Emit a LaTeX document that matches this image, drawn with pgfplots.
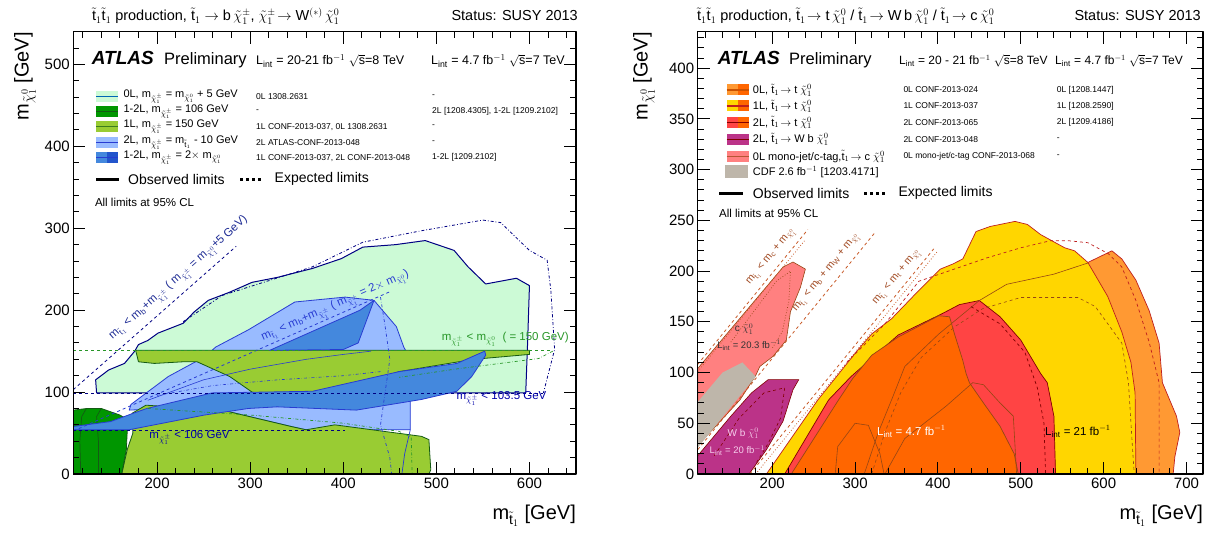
\documentclass[border=0pt]{standalone}
\usepackage{fontspec}
\setmainfont{Liberation Sans}
\usepackage{pgfplots}
\pgfplotsset{compat=1.18}

\definecolor{cLG}{RGB}{204,250,214}
\definecolor{cG}{RGB}{0,150,0}
\definecolor{cDG}{RGB}{20,90,20}
\definecolor{cYG}{RGB}{153,204,51}
\definecolor{cLB}{RGB}{153,187,255}
\definecolor{cMB}{RGB}{68,136,221}
\definecolor{cDB}{RGB}{34,85,204}
\definecolor{cNavy}{RGB}{0,0,130}
\definecolor{cBlue}{RGB}{40,60,210}
\definecolor{cGrn}{RGB}{40,150,40}
\definecolor{cLO}{RGB}{255,153,51}
\definecolor{cO}{RGB}{255,102,0}
\definecolor{cY}{RGB}{255,214,0}
\definecolor{cR}{RGB}{255,68,68}
\definecolor{cPu}{RGB}{187,51,136}
\definecolor{cP}{RGB}{255,128,128}
\definecolor{cGr}{RGB}{190,182,170}
\definecolor{cDR}{RGB}{190,30,30}
\definecolor{cDR2}{RGB}{130,0,0}
\definecolor{cBr}{RGB}{150,70,20}
\definecolor{cK}{RGB}{200,90,40}

\newcommand{\tI}{\tilde{\mathrm{t}}_{1}}
\newcommand{\cz}{\tilde{\chi}^{0}_{1}}
\newcommand{\cpm}{\tilde{\chi}^{\pm}_{1}}
\newcommand{\fsLeg}{\fontsize{11}{13}\selectfont}
\newcommand{\fsRef}{\fontsize{8.5}{10}\selectfont}
\newcommand{\fsObs}{\fontsize{14}{16}\selectfont}
\newcommand{\fsTit}{\fontsize{14.5}{16}\selectfont}
\newcommand{\fsLab}{\fontsize{20}{24}\selectfont}
\newcommand{\fsIn}{\fontsize{11.5}{13}\selectfont}

% legend swatch: x, y, left colour, right colour, line colour
\newcommand{\swatch}[5]{%
  \fill[#3] (#1,#2-5.5) rectangle ++(11,11);
  \fill[#4] (#1+11,#2-5.5) rectangle ++(11,11);
  \draw[#5, line width=1.2pt] (#1,#2) -- ++(22,0);}

\pgfplotsset{atlas/.style={scale only axis, anchor=south west,
    width=502.7pt, height=442.3pt,
    tick align=inside, major tick length=12pt, minor tick length=6pt,
    every tick/.append style={black, line width=1pt},
    axis line style={line width=1.3pt},
    ticklabel style={font=\fontsize{15}{18}\selectfont},
    /pgf/number format/assume math mode=true,
    axis on top, line join=round}}

\begin{document}
\begin{tikzpicture}[x=1pt,y=1pt]
\useasboundingbox (0,0) rectangle (1210,533);

%================ left panel =================
\begin{axis}[atlas, at={(73.3pt,59pt)},
    xmin=110, xmax=650, ymin=0, ymax=540,
    xtick={200,300,400,500,600}, ytick={0,100,200,300,400,500},
    minor xtick={120,140,...,640}, minor ytick={20,40,...,520}]

% 0L, m_chipm = m_chi0 + 5 GeV
\addplot[fill=cLG, draw=cNavy, line width=1pt] coordinates {
 (135,99) (134,115) (148,127) (165,135) (176,150) (180,158) (190,163)
 (201,172) (228,184) (240,198) (255,212) (278,222) (302,234) (329,240)
 (367,251) (398,263) (421,277) (456,280) (488,285) (519,273) (534,253)
 (553,232) (586,239) (600,230) (598,160) (596,99)} -- cycle;
\addplot[cNavy, line width=0.8pt, dash dot] coordinates {
 (228,186) (270,218) (367,253) (421,283) (484,297) (550,310) (569,307)
 (600,273) (619,261) (623,224) (627,152) (615,99)};

% 2L, m_chipm = m_t - 10 GeV
\addplot[fill=cLB, draw=cBlue, line width=0.8pt] coordinates {
 (170,78) (172,85) (212,119) (251,143) (263,155) (298,176) (348,210)
 (402,216) (433,212) (457,180) (465,155) (472,140) (472,54) (360,54)
 (344,58) (270,78) (212,83) (190,79)} -- cycle;

% 1L, m_chipm = 150 GeV
\addplot[fill=cYG, draw=cDG, line width=0.8pt] coordinates {
 (177,151) (600,151) (600,146) (540,140) (460,125) (420,110) (380,98)
 (344,90) (302,100) (278,119) (243,137) (228,137) (197,135) (180,137)} -- cycle;
\addplot[fill=cYG, draw=cDG, line width=0.8pt] coordinates {
 (162,0) (168,30) (174,50) (173,74) (188,84) (270,78) (344,58) (360,54)
 (391,60) (484,46) (492,42) (494,5) (492,0)} -- cycle;

% 1-2L, m_chipm = 106 GeV
\addplot[fill=cG, draw=cDG, line width=0.8pt] coordinates {
 (110,0) (110,78) (125,80) (140,80) (150,76) (160,72) (169,66) (168,54)
 (167,30) (162,0)} -- cycle;
\addplot[cDG, line width=0.7pt] coordinates {(118,0) (117,40) (119,70) (124,80)};
\addplot[cDG, line width=0.7pt] coordinates {(137,0) (137,40) (135,70) (140,80)};

% 1-2L, m_chipm = 2 x m_chi0
\addplot[fill=cMB, draw=cBlue, line width=0.8pt] coordinates {
 (110,54) (170,54) (251,72) (298,80) (329,82) (414,78) (484,91) (522,101)
 (538,119) (553,145) (552,150) (522,135) (460,125) (367,101) (259,99)
 (189,80) (174,74) (150,64) (110,58)} -- cycle;
\addplot[fill=cMB, draw=cBlue, line width=0.8pt] coordinates {
 (321,151) (418,200) (433,212) (416,160) (400,152)} -- cycle;

% inner contours
\addplot[cBlue, dash dot, line width=0.7pt] coordinates {
 (440,216) (445,180) (450,140) (445,100) (440,60) (450,20) (452,0)};
\addplot[cBlue, line width=0.7pt] coordinates {(472,54) (466,25) (463,0)};
\addplot[cGrn, dash dot, line width=0.7pt] coordinates {
 (190,80) (300,72) (400,62) (460,52) (473,45) (474,0)};
\addplot[cGrn, dash dot, line width=0.7pt] coordinates {
 (625,150) (610,141) (520,128) (460,118)};
\addplot[cBlue, line width=0.6pt] coordinates {
 (190,90) (250,115) (300,128) (360,140) (400,146) (430,150)};
\addplot[cBlue, dash dot, line width=0.6pt] coordinates {
 (200,96) (260,108) (330,115) (400,120) (440,125)};

% kinematic and LEP lines
\addplot[cNavy, dashed, line width=0.8pt] coordinates {(110,103) (285,278)};
\addplot[cBlue, dashed, line width=0.8pt] coordinates {(110,52.5) (450,222.5)};
\addplot[cGrn, dashed, line width=0.8pt] coordinates {(110,151) (625,151)};
\addplot[cNavy, dashed, line width=0.8pt] coordinates {(110,99) (615,99)};
\addplot[cNavy, dashed, line width=0.8pt] coordinates {(110,53) (402,53)};

\node[cBlue!70!black, font=\fsIn, rotate=41.5] at (axis cs:224,238)
  {m$_{\tI}$ < m$_{\mathrm{b}}$+m$_{\cpm}$ ( m$_{\cpm}$ = m$_{\cz}$+5 GeV)};
\node[cBlue, font=\fsIn, rotate=23.7] at (axis cs:392,204)
  {m$_{\tI}$ < m$_{\mathrm{b}}$+m$_{\cpm}$ ( m$_{\cpm}$ = 2$\times$ m$_{\cz}$)};
\node[cGrn, font=\fsIn] at (axis cs:574,164) {m$_{\cpm}$ < m$_{\cz}$ \ ( = 150 GeV)};
\node[cNavy!70!blue, font=\fsIn] at (axis cs:570,92) {m$_{\cpm}$ < 103.5 GeV};
\node[cNavy!70!blue, font=\fsIn, anchor=west] at (axis cs:188,44) {m$_{\cpm}$ < 106 GeV};
\end{axis}

%================ right panel =================
\begin{axis}[atlas, at={(697.7pt,59pt)}, width=505.3pt,
    xmin=110, xmax=720, ymin=0, ymax=436,
    xtick={200,300,400,500,600,700}, ytick={0,50,...,400},
    minor xtick={120,140,...,720}, minor ytick={10,20,...,430}]

% 0L t chi0
\addplot[fill=cLO, draw=cDR, line width=0.7pt] coordinates {
 (500,0) (500,180) (560,215) (581,208.5) (610,220) (622,212) (639,191)
 (655,161) (667,129) (671,90) (688,57) (692,41) (686,17) (684,0)} -- cycle;
% 1L t chi0
\addplot[fill=cY, draw=cDR, line width=0.7pt] coordinates {
 (193,0) (255,73) (303,122) (320,138) (344,153) (377,181) (403,202)
 (418,207) (430,212) (446,239) (463,244) (493,249) (508,246) (524,236)
 (553,223) (565,220) (581,208.5) (605,175) (622,140) (633,110) (638,80)
 (639,0)} -- cycle;
% 2L t chi0
\addplot[fill=cR, draw=cDR2, line width=0.7pt] coordinates {
 (215,0) (268,73) (295,96) (352,137) (405,158) (426,167) (450,171)
 (475,155) (500,132) (524,99) (532,90) (540,57) (542,0)} -- cycle;
% 7 TeV
\addplot[fill=cO, draw=cBr, line width=0.7pt] coordinates {
 (223,0) (280,73) (297,94) (320,117) (352,135) (401,156) (414,155)
 (420,138) (430,112) (434,99) (438,90) (455,70) (475,47) (492,20) (497,0)} -- cycle;

% inner contours
\addplot[cBr, line width=0.6pt] coordinates {
 (311,0) (328,41) (345,75) (360,106) (401,138) (450,171) (483,187)
 (540,197) (581,208)};
\addplot[cBr, dashed, line width=0.6pt] coordinates {
 (320,0) (336,41) (355,80) (380,115) (420,145) (454,163) (500,174)
 (569,174) (590,165) (622,129) (630,90) (635,24) (637,0)};
\addplot[cDR, dashed, line width=0.7pt] coordinates {
 (290,110) (336,148) (377,190) (459,213) (500,223) (536,230) (557,230)
 (581,228) (606,217) (622,204) (639,171) (655,130) (667,90) (667,24) (667,0)};
\addplot[cDR2, dashed, line width=0.7pt] coordinates {
 (440,165) (475,148) (505,120) (520,85) (528,50) (530,0)};
\addplot[cBr, line width=0.6pt] coordinates {
 (276,0) (279,27) (300,50) (316,48) (330,20) (335,0)};
\addplot[cBr, line width=0.6pt] coordinates {
 (336,0) (360,35) (410,67) (442,90) (455,88) (475,70) (491,57) (495,0)};

% mono-jet / c-tag
\addplot[fill=cP, draw=cBr, line width=0.6pt] coordinates {
 (110,104) (213,204) (225,209) (240,202) (234,184) (222,160) (217,132)
 (201,116) (185,106) (180,97) (161,73) (110,28)} -- cycle;
\addplot[cBr, dotted, line width=0.7pt] coordinates {
 (150,130) (205,190) (222,200) (220,170) (212,140) (200,124)};
% CDF
\addplot[fill=cGr, draw=none] coordinates {
 (110,26) (180,96) (164,110) (140,100) (110,71)} -- cycle;
% 2L W b chi0
\addplot[fill=cPu, draw=cDR2, line width=0.6pt] coordinates {
 (110,0) (110,18) (150,57) (175,80) (195,93) (232,93) (225,83) (213,52)
 (193,24) (172,0)} -- cycle;
\addplot[cDR2, dashed, line width=0.6pt] coordinates {
 (130,18) (160,55) (190,80) (215,85) (210,55) (195,30) (180,10)};

% kinematic limits
\addplot[cK, dashed, line width=0.8pt] coordinates {(110,108) (243,241)};
\addplot[cK, dashed, line width=0.8pt] coordinates {(110,24) (325,239)};
\addplot[cK, dashed, line width=0.8pt] coordinates {(173,0) (395,222)};
\addplot[cK, dotted, line width=0.8pt] coordinates {(110,101) (240,231)};
\addplot[cK, dotted, line width=0.8pt] coordinates {(180,0) (400,220)};

\node[cK!80!black, font=\fontsize{10.5}{12}\selectfont, rotate=50.7] at (axis cs:199,214)
  {m$_{\tI}$ < m$_{\mathrm{c}}$ + m$_{\cz}$};
\node[cK!80!black, font=\fontsize{10.5}{12}\selectfont, rotate=50.7] at (axis cs:266,198)
  {m$_{\tI}$ < m$_{\mathrm{b}}$ + m$_{\mathrm{W}}$ + m$_{\cz}$};
\node[cK!80!black, font=\fontsize{10.5}{12}\selectfont, rotate=50.7] at (axis cs:351,194)
  {m$_{\tI}$ < m$_{\mathrm{t}}$ + m$_{\cz}$};

\node[font=\fontsize{10}{12}\selectfont, text=black!80] at (axis cs:166,143) {c $\cz$};
\node[font=\fontsize{9.5}{12}\selectfont, text=black!80] at (axis cs:172,127) {L$_{\mathrm{int}}$ = 20.3 fb$^{-1}$};
\node[font=\fontsize{10}{12}\selectfont, text={rgb,255:red,245;green,205;blue,235}] at (axis cs:165,40) {W b $\cz$};
\node[font=\fontsize{9.5}{12}\selectfont, text={rgb,255:red,245;green,205;blue,235}] at (axis cs:158,23) {L$_{\mathrm{int}}$ = 20 fb$^{-1}$};
\node[font=\fontsize{11.5}{13}\selectfont, text=white] at (axis cs:368,42) {L$_{\mathrm{int}}$ = 4.7 fb$^{-1}$};
\node[font=\fontsize{11.5}{13}\selectfont] at (axis cs:569,42) {L$_{\mathrm{int}}$ = 21 fb$^{-1}$};
\end{axis}

%================ titles, labels =================
\node[anchor=base west, font=\fsTit, inner sep=0] at (92,512)
  {$\tI\tI$ production, $\tI\rightarrow \mathrm{b}\,\cpm$, $\cpm\!\rightarrow \mathrm{W}^{(*)}\,\cz$};
\node[anchor=base east, font=\fsTit, inner sep=0] at (578,512) {Status: SUSY 2013};
\node[anchor=base west, font=\fsTit, inner sep=0] at (697,512)
  {$\tI\tI$ production, $\tI\!\rightarrow \mathrm{t}\,\cz$ / $\tI\!\rightarrow \mathrm{W\,b}\,\cz$ / $\tI\!\rightarrow \mathrm{c}\,\cz$};
\node[anchor=base east, font=\fsTit, inner sep=0] at (1201,512) {Status: SUSY 2013};

\node[rotate=90, anchor=east, font=\fsLab, inner sep=0] at (25,501) {m$_{\cz}$ [GeV]};
\node[rotate=90, anchor=east, font=\fsLab, inner sep=0] at (644,501) {m$_{\cz}$ [GeV]};
\node[anchor=base east, font=\fsLab, inner sep=0] at (576,14) {m$_{\tI}$ [GeV]};
\node[anchor=base east, font=\fsLab, inner sep=0] at (1203,14) {m$_{\tI}$ [GeV]};

%================ left legend =================
\node[anchor=base west, inner sep=0, font=\fontsize{19}{20}\selectfont\bfseries\itshape] at (91.7,468) {ATLAS};
\node[anchor=base west, inner sep=0, font=\fontsize{16.5}{18}\selectfont] at (164,468) {Preliminary};
\node[anchor=base west, inner sep=0, font=\fontsize{12.5}{14}\selectfont] at (256,468)
  {L$_{\mathrm{int}}$ = 20-21 fb$^{-1}$ $\sqrt{\mathrm{s}}$=8 TeV};
\node[anchor=base west, inner sep=0, font=\fontsize{12.5}{14}\selectfont] at (431,468)
  {L$_{\mathrm{int}}$ = 4.7 fb$^{-1}$ $\sqrt{\mathrm{s}}$=7 TeV};

\swatch{96}{436.3}{cLG}{cLG}{cNavy!60!cyan}
\swatch{96}{421.3}{cG}{cG}{cDG}
\swatch{96}{406.3}{cYG}{cYG}{cDG!70!cYG}
\swatch{96}{390.3}{cLB}{cLB}{cBlue}
\swatch{96}{375.3}{cMB}{cDB}{cBlue}
\begin{scope}[every node/.style={anchor=west, inner sep=0}]
\node[font=\fsLeg] at (123.3,436.3) {0L, m$_{\cpm}$ = m$_{\cz}$ + 5 GeV};
\node[font=\fsLeg] at (123.3,421.3) {1-2L, m$_{\cpm}$ = 106 GeV};
\node[font=\fsLeg] at (123.3,406.3) {1L, m$_{\cpm}$ = 150 GeV};
\node[font=\fsLeg] at (123.3,390.3) {2L, m$_{\cpm}$ = m$_{\tI}$ - 10 GeV};
\node[font=\fsLeg] at (123.3,375.3) {1-2L, m$_{\cpm}$ = 2$\times$ m$_{\cz}$};
\node[font=\fsRef] at (256,436.3) {0L 1308.2631};
\node[font=\fsRef] at (256,421.3) {-};
\node[font=\fsRef] at (256,406.3) {1L CONF-2013-037, 0L 1308.2631};
\node[font=\fsRef] at (256,390.3) {2L ATLAS-CONF-2013-048};
\node[font=\fsRef] at (256,375.3) {1L CONF-2013-037, 2L CONF-2013-048};
\node[font=\fsRef] at (432,436.3) {-};
\node[font=\fsRef] at (432,421.3) {2L [1208.4305], 1-2L [1209.2102]};
\node[font=\fsRef] at (432,406.3) {-};
\node[font=\fsRef] at (432,390.3) {-};
\node[font=\fsRef] at (432,375.3) {1-2L [1209.2102]};
\node[font=\fsObs] at (128,353.7) {Observed limits};
\node[font=\fsObs] at (274.5,353.7) {Expected limits};
\node[font=\fontsize{11.5}{13}\selectfont] at (94.8,331) {All limits at 95\% CL};
\end{scope}
\draw[line width=2.5pt] (96,353.7) -- (119,353.7);
\draw[line width=2.5pt, dash pattern=on 3pt off 3pt] (240,353.7) -- (262,353.7);

%================ right legend =================
\node[anchor=base west, inner sep=0, font=\fontsize{19}{20}\selectfont\bfseries\itshape] at (717.7,468) {ATLAS};
\node[anchor=base west, inner sep=0, font=\fontsize{16.5}{18}\selectfont] at (789,468) {Preliminary};
\node[anchor=base west, inner sep=0, font=\fontsize{12}{14}\selectfont] at (899,468)
  {L$_{\mathrm{int}}$ = 20 - 21 fb$^{-1}$ $\sqrt{\mathrm{s}}$=8 TeV};
\node[anchor=base west, inner sep=0, font=\fontsize{12}{14}\selectfont] at (1055,468)
  {L$_{\mathrm{int}}$ = 4.7 fb$^{-1}$ $\sqrt{\mathrm{s}}$=7 TeV};

\swatch{726.7}{443}{cLO}{cO}{cO!80!black}
\swatch{726.7}{427}{cY}{cO}{cDR}
\swatch{726.7}{410.3}{cR}{cO}{cDR2}
\swatch{726.7}{393.7}{cPu}{cPu}{cDR2}
\swatch{726.7}{376.3}{cP}{cP}{cBr!70!cP}
\fill[cGr] (725,355) rectangle (748.3,368);
\begin{scope}[every node/.style={anchor=west, inner sep=0}]
\node[font=\fsLeg] at (752.7,443) {0L, $\tI\!\rightarrow$ t $\cz$};
\node[font=\fsLeg] at (752.7,427) {1L, $\tI\!\rightarrow$ t $\cz$};
\node[font=\fsLeg] at (752.7,410.3) {2L, $\tI\!\rightarrow$ t $\cz$};
\node[font=\fsLeg] at (752.7,393.7) {2L, $\tI\!\rightarrow$ W b $\cz$};
\node[font=\fsLeg] at (752.7,376.3) {0L mono-jet/c-tag,$\tI\!\rightarrow$ c $\cz$};
\node[font=\fsLeg] at (752.7,361.3) {CDF 2.6 fb$^{-1}$ [1203.4171]};
\node[font=\fsRef] at (903.3,443) {0L CONF-2013-024};
\node[font=\fsRef] at (903.3,427) {1L CONF-2013-037};
\node[font=\fsRef] at (903.3,410.3) {2L CONF-2013-065};
\node[font=\fsRef] at (903.3,393.7) {2L CONF-2013-048};
\node[font=\fsRef] at (903.3,376.3) {0L mono-jet/c-tag CONF-2013-068};
\node[font=\fsRef] at (1056.7,443) {0L [1208.1447]};
\node[font=\fsRef] at (1056.7,427) {1L [1208.2590]};
\node[font=\fsRef] at (1056.7,410.3) {2L [1209.4186]};
\node[font=\fsRef] at (1056.7,393.7) {-};
\node[font=\fsRef] at (1056.7,376.3) {-};
\node[font=\fsObs] at (752.7,339.7) {Observed limits};
\node[font=\fsObs] at (898.3,339.7) {Expected limits};
\node[font=\fontsize{11.5}{13}\selectfont] at (719,319.7) {All limits at 95\% CL};
\end{scope}
\draw[line width=2.5pt] (719,339.7) -- (743,339.7);
\draw[line width=2.5pt, dash pattern=on 3pt off 3pt] (864,339.7) -- (887,339.7);
\end{tikzpicture}
\end{document}
